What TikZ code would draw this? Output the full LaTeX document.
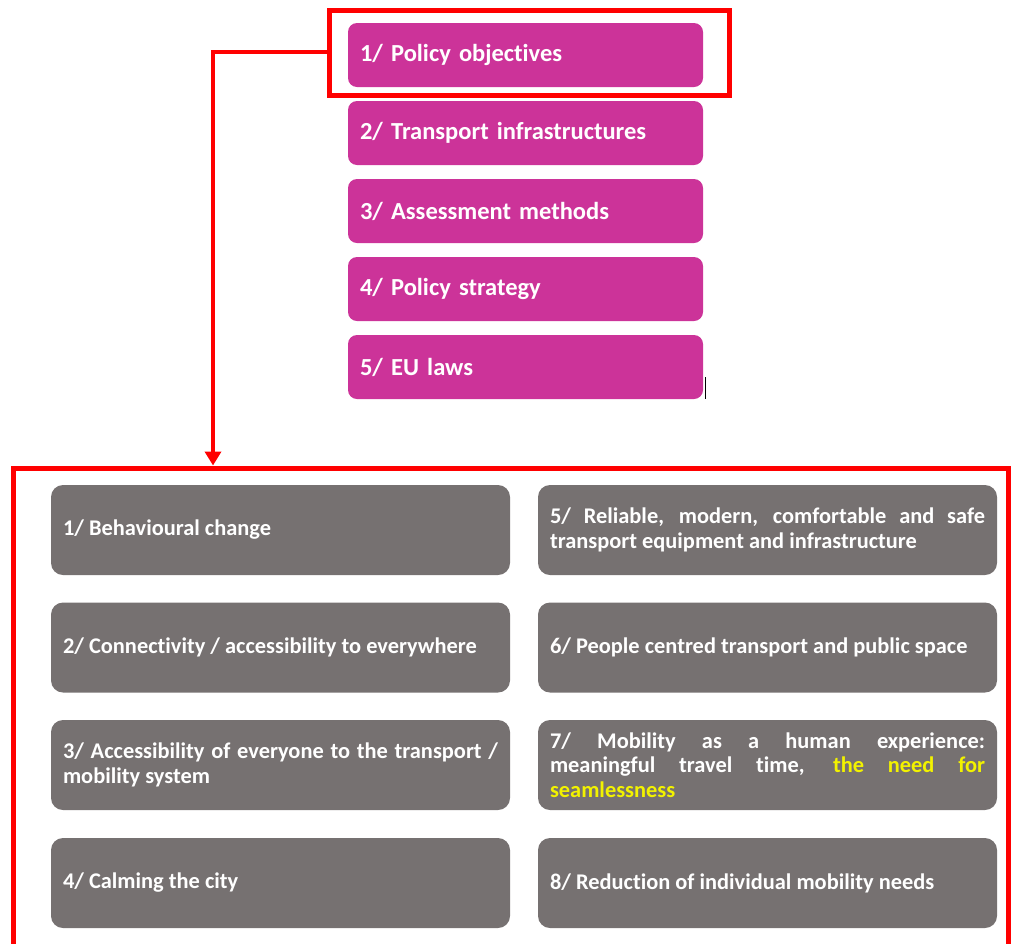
\documentclass[tikz,border=0pt]{standalone}
\usepackage{fontspec}
\setmainfont{Carlito}[Ligatures={NoCommon}]
\usetikzlibrary{arrows.meta}
\definecolor{pinkbox}{HTML}{CC3399}
\definecolor{graybox}{HTML}{767171}
\definecolor{hl}{HTML}{F2F200}
\definecolor{selred}{HTML}{FF0000}
\begin{document}
\hyphenpenalty=10000
\exhyphenpenalty=10000
\begin{tikzpicture}[x=1pt,y=-1pt,
  pbox/.style={rectangle, rounded corners=9pt, fill=pinkbox, text=white,
    font=\bfseries\fontsize{24.5}{28}\selectfont, minimum width=355pt,
    minimum height=64pt, text width=331pt, inner xsep=12pt, align=left},
  gbox/.style={rectangle, rounded corners=12pt, fill=graybox, text=white,
    font=\bfseries\fontsize{22.4}{24.5}\selectfont,
    minimum width=459pt, minimum height=90pt, text width=435pt,
    inner xsep=12pt, align=justify},
  selbox/.style={rectangle, draw=selred, line width=5pt},
  link/.style={draw=selred, line width=4pt, -{Triangle[width=16pt,length=14pt]}}
]
\useasboundingbox (0,0) rectangle (1011,943);

% top selection frame
\node[selbox, minimum width=400pt, minimum height=85pt] (sel) at (529.5,53) {};

% policy boxes
\node[pbox] (p1) at (525.5,55) {1/ Policy objectives};
\node[pbox] (p2) at (525.5,133) {2/ Transport infrastructures};
\node[pbox] (p3) at (525.5,211) {3/ Assessment methods};
\node[pbox] (p4) at (525.5,289) {4/ Policy strategy};
\node[pbox] (p5) at (525.5,367) {5/ EU laws};

% cursor mark
\draw[black, line width=1.3pt] (705.5,377) -- (705.5,399);

% bottom frame
\node[selbox, minimum width=995pt, minimum height=492pt] (bot) at (511,714) {};

% connector
\coordinate (turn) at (213,52);
\draw[link] (sel.west |- turn) -- (turn) -- (turn |- bot.north);

% objective boxes
\node[gbox] (o1) at (280.5,530) {1/ Behavioural change};
\node[gbox] (o2) at (280.5,647.5) {2/ Connectivity / accessibility to everywhere};
\node[gbox] (o3) at (280.5,765) {3/ Accessibility of everyone to the transport / mobility system};
\node[gbox] (o4) at (280.5,883) {4/ Calming the city};
\node[gbox] (o5) at (767.5,530) {5/ Reliable, modern, comfortable and safe transport equipment and infrastructure};
\node[gbox] (o6) at (767.5,647.5) {6/ People centred transport and public space};
\node[gbox] (o7) at (767.5,765) {7/ Mobility as a human experience:\linebreak meaningful travel time, \textcolor{hl}{the need for\linebreak seamlessness}};
\node[gbox] (o8) at (767.5,883) {8/ Reduction of individual mobility needs};
\end{tikzpicture}
\end{document}
